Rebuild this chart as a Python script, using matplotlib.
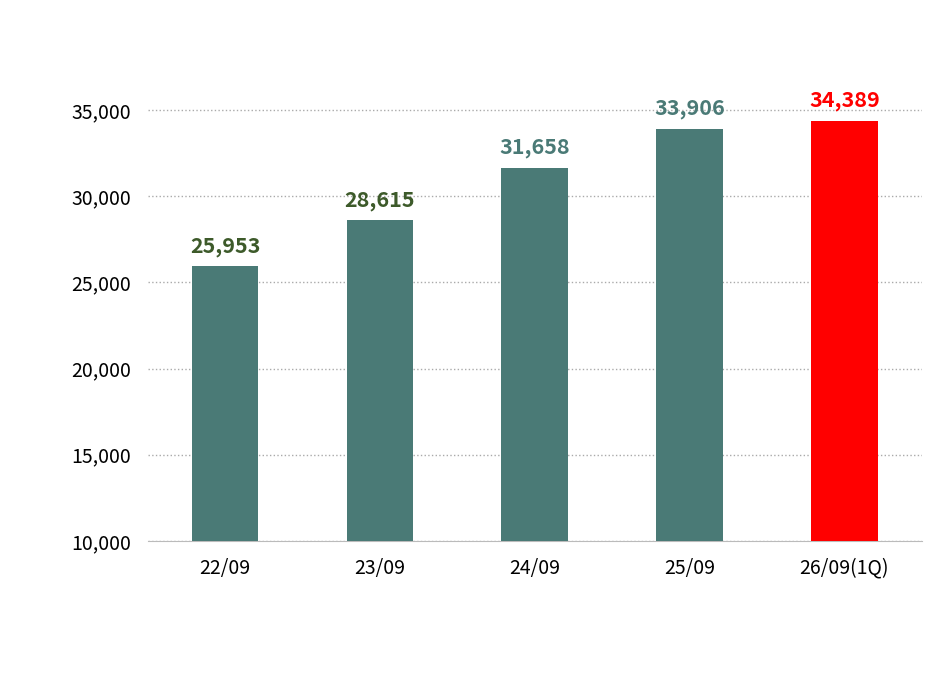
import matplotlib.pyplot as plt

plt.rcParams['font.family'] = ['Noto Sans CJK JP', 'DejaVu Sans']

categories = ['22/09', '23/09', '24/09', '25/09', '26/09(1Q)']
values = [25953, 28615, 31658, 33906, 34389]
bar_colors = ['#4a7a76', '#4a7a76', '#4a7a76', '#4a7a76', '#ff0000']
label_colors = ['#3d5a2a', '#3d5a2a', '#4a7a76', '#4a7a76', '#ff0000']

fig = plt.figure(figsize=(9.34, 6.88), dpi=100)
ax = fig.add_axes([0.158, 0.2137, 0.829, 0.689])

x = range(len(categories))
ax.bar(x, values, width=0.43, color=bar_colors, zorder=3)
for i, v in enumerate(values):
    ax.text(i, v + 550, f'{v:,}', ha='center', va='bottom', fontsize=15.5,
            fontweight='bold', color=label_colors[i])

ax.set_ylim(10000, 37500)
ax.set_xlim(-0.5, 4.5)
ax.set_yticks(range(10000, 35001, 5000))
ax.set_yticklabels([f'{t:,}' for t in range(10000, 35001, 5000)], fontsize=14)
ax.set_xticks(list(x))
ax.set_xticklabels(categories, fontsize=14)
ax.tick_params(length=0, pad=12)
ax.yaxis.grid(True, linestyle=':', color='#aaaaaa', linewidth=1, zorder=0)
for s in ['top', 'right', 'left']:
    ax.spines[s].set_visible(False)
ax.spines['bottom'].set_color('#bbbbbb')

fig.savefig('out.png')
